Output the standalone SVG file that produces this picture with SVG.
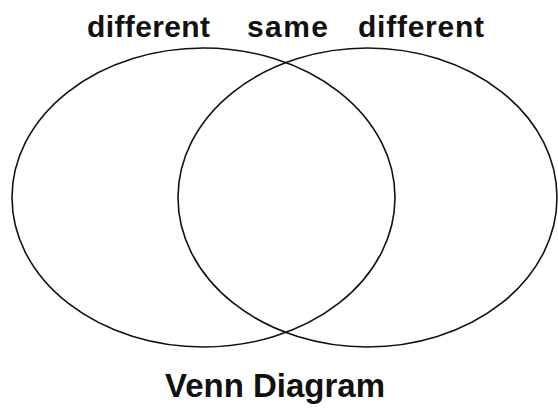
<svg xmlns="http://www.w3.org/2000/svg" width="558" height="411" viewBox="0 0 558 411">
<style>
.c{fill:none;stroke:#111;stroke-width:1.6}
.t{font-family:"Liberation Sans",Arial,sans-serif;fill:#111}
.s{font-size:30px;font-weight:bold}
.h{font-size:33px;font-weight:bold}
</style>
<rect width="558" height="411" fill="#fff"/>
<g id="left"><ellipse class="c" cx="203.5" cy="197.5" rx="191.5" ry="149.5"/></g>
<g id="right"><ellipse class="c" cx="367.5" cy="197.5" rx="189.5" ry="149.5"/></g>
<g id="connectors"></g>
<g id="labels">
<text class="t s" x="87" y="37" textLength="123" lengthAdjust="spacing">different</text>
<text class="t s" x="247" y="37" textLength="81" lengthAdjust="spacing">same</text>
<text class="t s" x="358" y="37" textLength="126" lengthAdjust="spacing">different</text>
<text class="t h" x="165" y="397" textLength="220" lengthAdjust="spacing">Venn Diagram</text>
</g>
</svg>
